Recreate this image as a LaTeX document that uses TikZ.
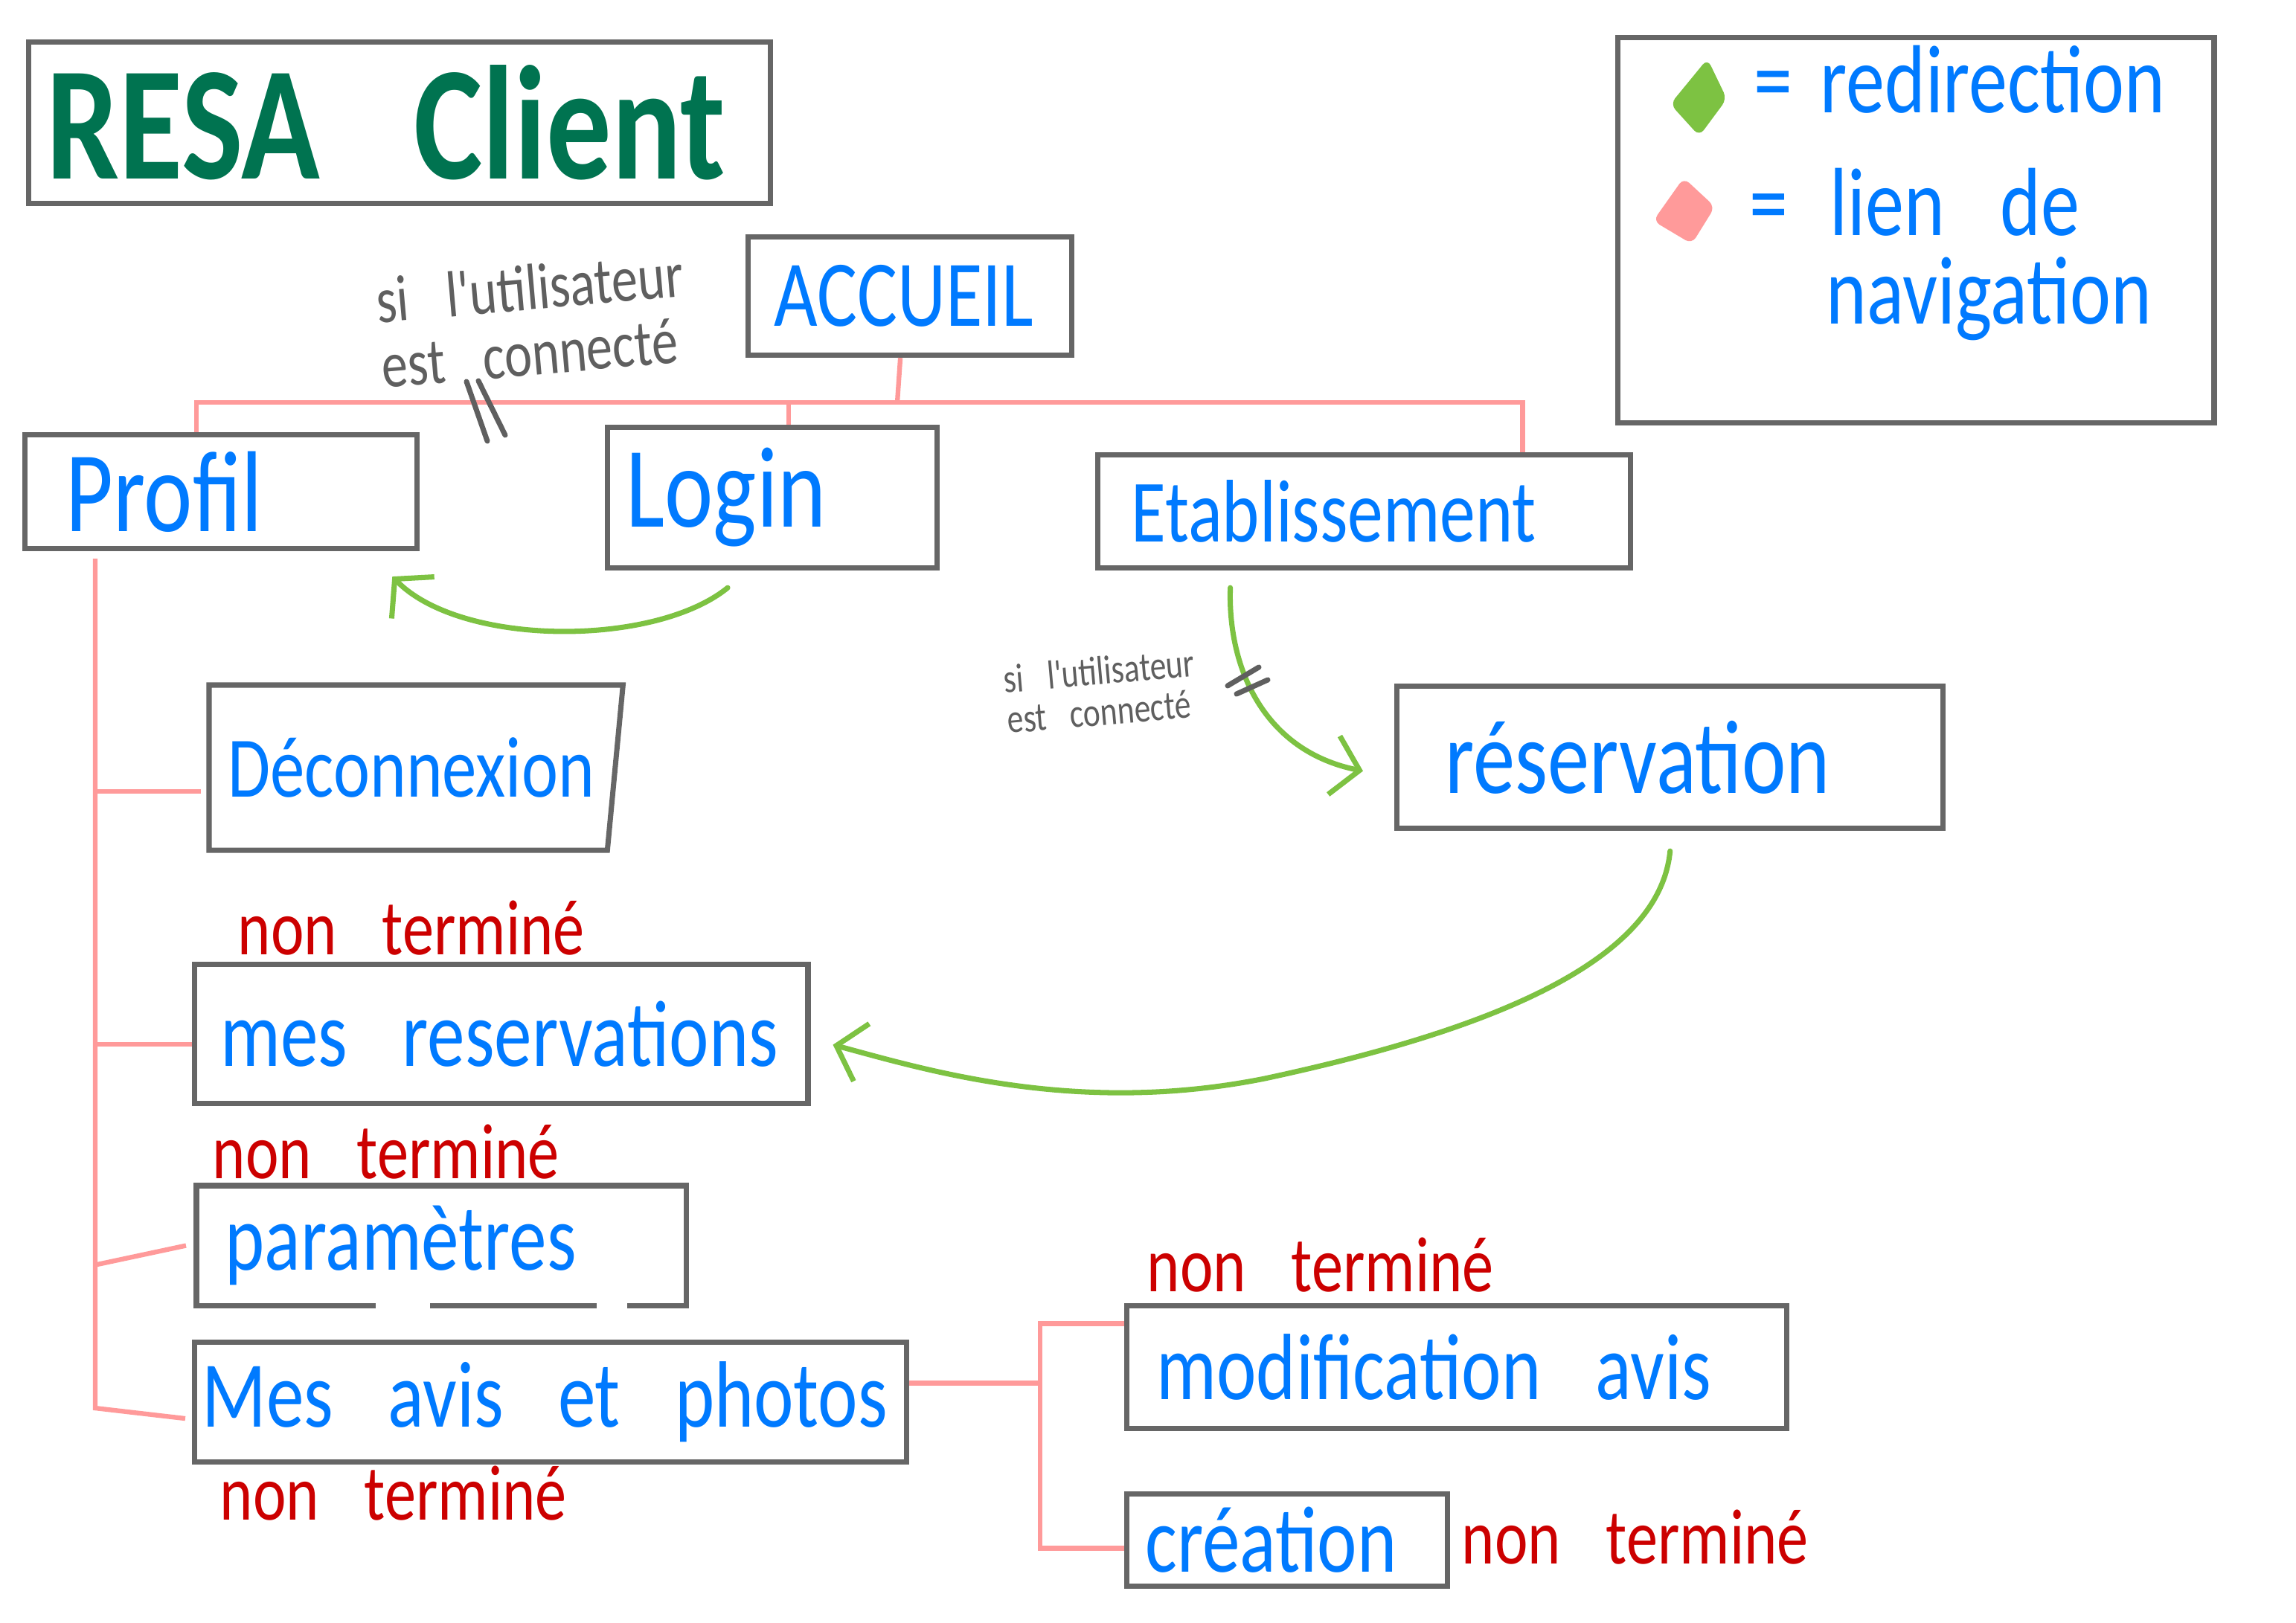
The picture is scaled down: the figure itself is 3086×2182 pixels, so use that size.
\documentclass[tikz,border=0pt]{standalone}
\usepackage{fontspec}
\newfontfamily\hand{Carlito}[WordSpace=3.2, FakeStretch=0.8]
\usetikzlibrary{arrows.meta,calc}
\definecolor{handblue}{RGB}{0,122,255}
\definecolor{handred}{RGB}{204,0,0}
\definecolor{titlegreen}{RGB}{0,115,80}
\definecolor{redirgreen}{RGB}{125,194,66}
\definecolor{navpink}{RGB}{255,154,154}
\definecolor{boxgrey}{RGB}{102,102,102}
\definecolor{notegrey}{RGB}{95,95,95}
\newcommand\boxlabel[2]{\makebox[#1][l]{#2}}
\begin{document}
\begin{tikzpicture}[x=0.01cm,y=-0.01cm,
    box/.style={draw=boxgrey, line width=2pt, anchor=north west,
                inner ysep=0pt, text=handblue, font=\hand\fontsize{36}{40}\selectfont},
    legtext/.style={anchor=base west, align=left, inner sep=0pt, text=handblue,
                font=\hand\fontsize{37}{34}\selectfont},
    note/.style={anchor=base west, align=left, inner sep=0pt, text=notegrey, rotate=5},
    nav/.style={draw=navpink, line width=1.8pt},
    redir/.style={draw=redirgreen, line width=2pt, line cap=round, line join=round,
                -{Straight Barb[length=3.5mm,width=8mm]}},
    cut/.style={draw=notegrey, line width=2pt, line cap=round}]
  \fill[white] (0,0) rectangle (3086,2182);
  \useasboundingbox (0,0) rectangle (3086,2182);

  \node[box, text=titlegreen, font=\hand\bfseries\fontsize{62}{66}\selectfont,
        inner xsep=0.24cm, minimum height=2.17cm] (title) at (35,53) {\boxlabel{9.48cm}{RESA Client}};
  \node[box, minimum width=8.01cm, minimum height=5.18cm] (legend) at (2171,47) {};
  \node[box, inner xsep=0.35cm, minimum height=1.59cm] (accueil) at (1002,315) {\boxlabel{3.65cm}{ACCUEIL}};
  \node[box, inner xsep=0.55cm, minimum height=1.53cm, font=\hand\fontsize{44}{48}\selectfont]
       (profil) at (30,581) {\boxlabel{4.17cm}{Profil}};
  \node[box, inner xsep=0.25cm, minimum height=1.89cm, font=\hand\fontsize{44}{48}\selectfont]
       (login) at (813,571) {\boxlabel{3.93cm}{Login}};
  \node[box, inner xsep=0.45cm, minimum height=1.52cm, font=\hand\fontsize{34}{38}\selectfont]
       (etab) at (1472,608) {\boxlabel{6.26cm}{Etablissement}};
  \node[box, draw=none, inner xsep=0.22cm, minimum height=2.15cm, font=\hand\fontsize{33}{36}\selectfont]
       (deco) at (281,921) {\boxlabel{5.05cm}{Déconnexion}};
  \node[box, inner xsep=0.65cm, minimum height=1.91cm, font=\hand\fontsize{40}{44}\selectfont]
       (resa) at (1874,919) {\boxlabel{6.04cm}{réservation}};
  \node[box, inner xsep=0.35cm, minimum height=1.87cm] (mesresa) at (258,1293) {\boxlabel{7.54cm}{mes reservations}};
  \node[box, draw=none, inner xsep=0.35cm, minimum height=1.54cm] (param) at (264,1594) {\boxlabel{5.81cm}{paramètres}};
  \node[box, inner xsep=0.10cm, minimum height=1.61cm] (avis)  at (258,1801)  {\boxlabel{9.36cm}{Mes avis et photos}};
  \node[box, inner xsep=0.40cm, minimum height=1.65cm] (modif) at (1511,1752) {\boxlabel{8.06cm}{modification avis}};
  \node[box, inner xsep=0.25cm, minimum height=1.24cm] (crea)  at (1511,2005) {\boxlabel{3.81cm}{création}};

  \draw[boxgrey, line width=2pt] (deco.north west) -- (deco.north east)
       -- ([xshift=-0.21cm]deco.south east) -- (deco.south west) -- cycle;
  \draw[boxgrey, line width=2pt] ([xshift=2.41cm]param.south west) -- (param.south west)
       -- (param.north west) -- (param.north east) -- (param.south east) -- ([xshift=-0.79cm]param.south east);
  \draw[boxgrey, line width=2pt] ([xshift=3.14cm]param.south west) -- ([xshift=5.38cm]param.south west);

  \fill[redirgreen, rounded corners=0.1cm] (2295,79) -- (2321,133) -- (2284,183) -- (2245,140) -- cycle;
  \fill[navpink, rounded corners=0.1cm] (2263,239) -- (2305,278) -- (2274,328) -- (2222,297) -- cycle;
  \node[legtext] (legredir) at (2357,152) {=\hspace{0.37cm}redirection};
  \node[legtext] (legnav)   at (2351,436) {=\hspace{0.56cm}lien de\\\hphantom{=}\hspace{0.51cm}navigation};

  \coordinate (hub)  at (1206,541);
  \coordinate (ptop) at ([xshift=-0.33cm]profil.north);
  \coordinate (ltop) at ([xshift=0.22cm]login.north);
  \coordinate (etop) at ([xshift=-1.49cm]etab.north east);
  \draw[nav] ([xshift=-0.13cm]accueil.south) -- (hub);
  \draw[nav] (ptop) |- (etop |- hub) -- (etop);
  \draw[nav] (ltop) -- (ltop |- hub);

  \coordinate (trunk)   at ([xshift=0.98cm,yshift=-0.1cm]profil.south west);
  \coordinate (todeco)  at ([xshift=-0.11cm,yshift=-0.32cm]deco.west);
  \coordinate (tomes)   at ([yshift=-0.14cm]mesresa.west);
  \coordinate (toparam) at ([xshift=-0.14cm]param.west);
  \coordinate (toavis)  at ([xshift=-0.09cm,yshift=-0.22cm]avis.west);
  \draw[nav] (trunk) -- ($(trunk |- toavis)+(0,-14)$) -- (toavis);
  \draw[nav] (trunk |- todeco) -- (todeco);
  \draw[nav] (trunk |- tomes) -- (tomes);
  \draw[nav] ($(trunk |- toparam)+(0,26)$) -- (toparam);

  \coordinate (avisout) at ([yshift=0.255cm]avis.east);
  \coordinate (tomodif) at ([yshift=0.585cm]modif.west);
  \coordinate (tocrea)  at ([yshift=-0.11cm]crea.west);
  \coordinate (fork)    at ($(tomodif)+(-113,0)$);
  \draw[nav] (avisout) -- (avisout -| fork);
  \draw[nav] (tomodif) -- (fork) |- (tocrea);

  \draw[redir] ([xshift=-0.6cm,yshift=-0.23cm]login.south)
       .. controls (880,870) and (620,870) .. ([xshift=-0.37cm,yshift=-0.34cm]profil.south east);
  \draw[redir] ([xshift=-1.8cm,yshift=-0.23cm]etab.south)
       .. controls (1650,900) and (1700,1010) .. ([xshift=-0.42cm,yshift=-0.185cm]resa.west);
  \draw[redir] ([yshift=-0.27cm]resa.south) .. controls (2230,1300) and (1980,1390) .. (1700,1450)
       .. controls (1450,1500) and (1250,1440) .. ([xshift=0.3cm,yshift=-0.145cm]mesresa.east);

  \draw[cut] (627,513) -- (655,593);
  \draw[cut] (643,512) -- (679,585);
  \draw[cut] (1650,922) -- (1692,897);
  \draw[cut] (1662,933) -- (1704,914);

  \node[note, font=\hand\fontsize{25}{25}\selectfont] (condlogin) at (515,522) {si l'utilisateur\\est connecté};
  \node[note, font=\hand\fontsize{15.5}{15.5}\selectfont] (condresa)  at (1355,986) {si l'utilisateur\\est connecté};

  \begin{scope}[every node/.style={anchor=base west, inner sep=0pt, text=handred,
                font=\hand\fontsize{30}{32}\selectfont}]
    \node (todomes)   at (319,1283)  {non terminé};
    \node (todoparam) at (285,1584)  {non terminé};
    \node (todoavis)  at (295,2043)  {non terminé};
    \node (todomodif) at (1541,1736) {non terminé};
    \node (todocrea)  at (1964,2102) {non terminé};
  \end{scope}
\end{tikzpicture}
\end{document}
